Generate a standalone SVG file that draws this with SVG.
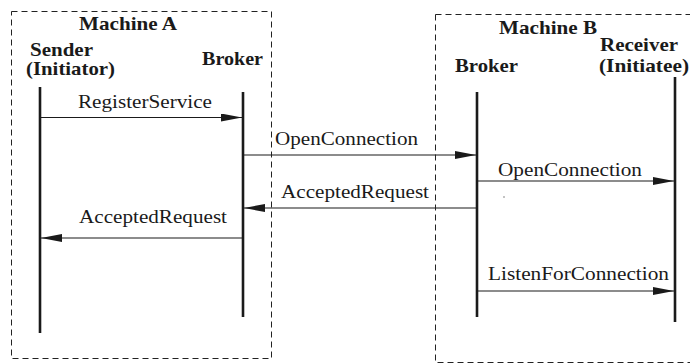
<svg xmlns="http://www.w3.org/2000/svg" width="690" height="364" viewBox="0 0 690 364">
<style>
.box{fill:none;stroke:#222;stroke-width:1;stroke-dasharray:6,4}
.life{stroke:#1a1a1a;stroke-width:2.6}
.msg{stroke:#1a1a1a;stroke-width:1.2;fill:none;marker-end:url(#ah)}
.b{font-family:"Liberation Serif","Times New Roman",serif;font-weight:bold;font-size:19px;fill:#1a1a1a}
.t{font-family:"Liberation Serif","Times New Roman",serif;font-size:18px;fill:#1a1a1a}
</style>
<defs>
<marker id="ah" markerUnits="userSpaceOnUse" markerWidth="22" markerHeight="10" refX="21" refY="4" orient="auto">
<path d="M0,0 L21,4 L0,8 Z" fill="#1a1a1a"/>
</marker>
</defs>
<rect width="690" height="364" fill="#fff"/>
<g id="machineA">
<rect class="box" x="11.5" y="11.5" width="260" height="347"/>
<text class="b" x="79" y="30" textLength="98" lengthAdjust="spacingAndGlyphs">Machine A</text>
</g>
<g id="machineB">
<rect class="box" x="435.5" y="14.5" width="300" height="348"/>
<text class="b" x="499" y="34" textLength="98" lengthAdjust="spacingAndGlyphs">Machine B</text>
</g>
<g id="sender">
<text class="b" x="30" y="56" textLength="63" lengthAdjust="spacingAndGlyphs">Sender</text>
<text class="b" x="26" y="75" textLength="89" lengthAdjust="spacingAndGlyphs">(Initiator)</text>
<line class="life" x1="40" y1="87" x2="40" y2="333"/>
</g>
<g id="brokerA">
<text class="b" x="202" y="65" textLength="61" lengthAdjust="spacingAndGlyphs">Broker</text>
<line class="life" x1="243" y1="92" x2="243" y2="317"/>
</g>
<g id="brokerB">
<text class="b" x="455" y="72" textLength="63" lengthAdjust="spacingAndGlyphs">Broker</text>
<line class="life" x1="477" y1="92" x2="477" y2="317"/>
</g>
<g id="receiver">
<text class="b" x="600" y="51" textLength="78" lengthAdjust="spacingAndGlyphs">Receiver</text>
<text class="b" x="599" y="72" textLength="90" lengthAdjust="spacingAndGlyphs">(Initiatee)</text>
<line class="life" x1="675" y1="77" x2="675" y2="322"/>
</g>
<g id="connectors">
<line class="msg" x1="40" y1="117.5" x2="242" y2="117.5"/>
<text class="t" x="78" y="108" textLength="134" lengthAdjust="spacingAndGlyphs">RegisterService</text>
<line class="msg" x1="243" y1="155" x2="476" y2="155"/>
<text class="t" x="275" y="145" textLength="143" lengthAdjust="spacingAndGlyphs">OpenConnection</text>
<line class="msg" x1="477" y1="181" x2="674" y2="181"/>
<text class="t" x="498" y="176" textLength="144" lengthAdjust="spacingAndGlyphs">OpenConnection</text>
<line class="msg" x1="477" y1="208" x2="244" y2="208"/>
<text class="t" x="281" y="198" textLength="148" lengthAdjust="spacingAndGlyphs">AcceptedRequest</text>
<line class="msg" x1="243" y1="238" x2="41" y2="238"/>
<text class="t" x="79" y="223" textLength="148" lengthAdjust="spacingAndGlyphs">AcceptedRequest</text>
<line class="msg" x1="477" y1="291" x2="674" y2="291"/>
<text class="t" x="488" y="280" textLength="181" lengthAdjust="spacingAndGlyphs">ListenForConnection</text>
</g>
<circle cx="504" cy="197" r="0.8" fill="#777"/>
</svg>
